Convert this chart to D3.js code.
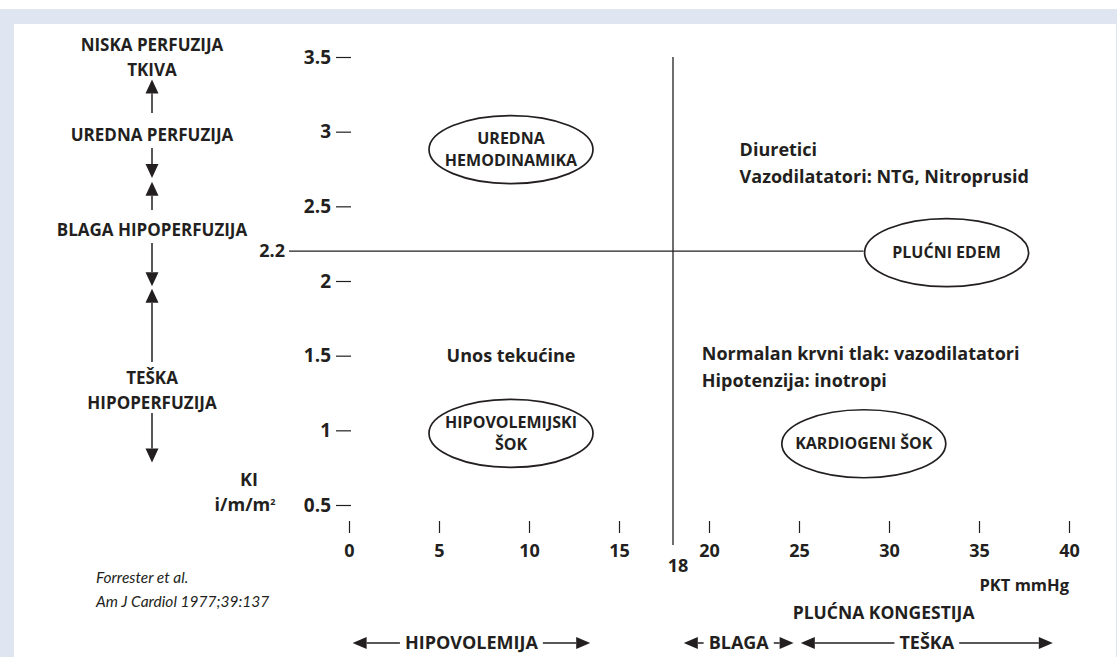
<!DOCTYPE html>
<html>
<head>
<meta charset="utf-8">
<title>Forrester</title>
<script src="https://d3js.org/d3.v7.min.js"></script>
<style>
  body { margin: 0; background: #fff; }
  svg text { font-family: "Open Sans", Lato, sans-serif; font-weight: 700; fill: #231f20; }
</style>
</head>
<body>
<svg id="chart" width="1118" height="657"></svg>
<script>
// axis ticks: KI (cardiac index) and PKT (wedge pressure, mmHg)
var kiTicks = [0.5, 1, 1.5, 2, 2.5, 3, 3.5];
var pktTicks = [0, 5, 10, 15, 20, 25, 30, 35, 40];
var kiCut = 2.2;
var pktCut = 18;

// the four subsets, ellipse centre in (pkt, ki)
var zoneNames = [["UREDNA", "HEMODINAMIKA"], ["PLUĆNI EDEM"], ["HIPOVOLEMIJSKI", "ŠOK"], ["KARDIOGENI ŠOK"]];
var zonePkt = [9, 33.2, 9, 28.6];
var zoneKi = [2.88, 2.19, 0.98, 0.91];

// therapy notes
var notes = [["Diuretici", "Vazodilatatori: NTG, Nitroprusid"], ["Unos tekućine"], ["Normalan krvni tlak: vazodilatatori", "Hipotenzija: inotropi"]];
var notePkt = [21.7, 9, 19.6];
var noteKi = [2.88, 1.5, 1.51];
var noteAnchor = ["start", "middle", "start"];

// perfusion labels on the left + the arrows between them (ki from -> to)
var perfLabels = [["NISKA PERFUZIJA", "TKIVA"], ["UREDNA PERFUZIJA"], ["BLAGA HIPOPERFUZIJA"], ["TEŠKA", "HIPOPERFUZIJA"]];
var perfKi = [3.58, 2.98, 2.34, 1.35];
var perfArrows = [[3.125, 3.35], [2.89, 2.69], [2.475, 2.665], [2.255, 1.965], [1.457, 1.948], [1.116, 0.785]];

// pressure ranges under the x axis
var ranges = ["HIPOVOLEMIJA", "BLAGA", "TEŠKA"];
var rangeFrom = [0.2, 18.6, 25.1];
var rangeTo = [13.4, 24.7, 39.1];

var svg = d3.select("#chart");
var ink = "#231f20";

// frame
svg.append("rect").attr("x", 0).attr("y", 9).attr("width", 1117).attr("height", 648).attr("fill", "#dfe6f2");
svg.append("rect").attr("x", 14).attr("y", 24).attr("width", 1102).attr("height", 633).attr("fill", "#fff");

var x = d3.scaleLinear().domain([0, 40]).range([349, 1069]);
var y = d3.scaleLinear().domain([0.5, 3.5]).range([505, 57]);

// y axis: labels with a dash to the right, no domain line
var yAxis = svg.append("g").attr("transform", "translate(351,0)")
  .call(d3.axisLeft(y).tickValues(kiTicks).tickSize(15).tickPadding(5).tickFormat(String));
yAxis.select(".domain").remove();
yAxis.selectAll("line").attr("stroke", ink).attr("stroke-width", 1.2);
yAxis.selectAll("text").attr("font-size", 19).attr("fill", ink)
  .style("font-family", "'Open Sans', sans-serif").style("font-weight", 700);

// x axis: small bars above the labels
var xAxis = svg.append("g").attr("transform", "translate(0,521)")
  .call(d3.axisBottom(x).tickValues(pktTicks).tickSize(12).tickPadding(11).tickFormat(String));
xAxis.select(".domain").remove();
xAxis.selectAll("line").attr("stroke", ink).attr("stroke-width", 1.2);
xAxis.selectAll("text").attr("font-size", 18).attr("fill", ink)
  .style("font-family", "'Open Sans', sans-serif").style("font-weight", 700);

// threshold lines
svg.append("line")
  .attr("x1", x(pktCut)).attr("x2", x(pktCut))
  .attr("y1", y(3.5)).attr("y2", y(0.5) + 40)
  .attr("stroke", ink).attr("stroke-width", 1.3);
svg.append("text").attr("x", x(pktCut) + 5).attr("y", 566).attr("dy", "0.35em")
  .attr("text-anchor", "middle").attr("font-size", 18)
  .text(pktCut);

var edemLeft = x(zonePkt[1]) - 83;
svg.append("line")
  .attr("x1", 289).attr("x2", edemLeft)
  .attr("y1", y(kiCut)).attr("y2", y(kiCut))
  .attr("stroke", ink).attr("stroke-width", 1.3);
svg.append("text").attr("x", 285).attr("y", y(kiCut)).attr("dy", "0.35em")
  .attr("text-anchor", "end").attr("font-size", 18)
  .text(kiCut);

// ellipses
zoneNames.forEach(function (lines, i) {
  var cx = x(zonePkt[i]), cy = y(zoneKi[i]);
  svg.append("ellipse").attr("cx", cx).attr("cy", cy).attr("rx", 82).attr("ry", 34)
    .attr("fill", "#fff").attr("stroke", ink).attr("stroke-width", 1.7);
  var t = svg.append("text").attr("text-anchor", "middle").attr("font-size", 16);
  lines.forEach(function (s, j) {
    t.append("tspan").attr("x", cx)
      .attr("y", cy + (j - (lines.length - 1) / 2) * 22)
      .attr("dy", "0.35em").text(s);
  });
});

// therapy notes
notes.forEach(function (lines, i) {
  var t = svg.append("text").attr("text-anchor", noteAnchor[i]).attr("font-size", 18);
  lines.forEach(function (s, j) {
    t.append("tspan").attr("x", x(notePkt[i])).attr("y", y(noteKi[i]) + j * 27)
      .attr("dy", "0.35em").text(s);
  });
});

// arrow helper: line from (x1,y1) to tip (x2,y2) with filled head
function arrow(x1, y1, x2, y2, len, half) {
  var dx = x2 - x1, dy = y2 - y1, d = Math.sqrt(dx * dx + dy * dy);
  var ux = dx / d, uy = dy / d;
  var bx = x2 - ux * len, by = y2 - uy * len;
  svg.append("line").attr("x1", x1).attr("y1", y1).attr("x2", bx).attr("y2", by)
    .attr("stroke", ink).attr("stroke-width", 1.5);
  svg.append("path")
    .attr("d", "M" + x2 + "," + y2 + "L" + (bx - uy * half) + "," + (by + ux * half) +
      "L" + (bx + uy * half) + "," + (by - ux * half) + "Z")
    .attr("fill", ink);
}

// perfusion side labels
var perfX = 152;
perfLabels.forEach(function (lines, i) {
  var t = svg.append("text").attr("text-anchor", "middle").attr("font-size", 17);
  lines.forEach(function (s, j) {
    t.append("tspan").attr("x", perfX).attr("y", y(perfKi[i]) + j * 25)
      .attr("dy", "0.35em").text(s);
  });
});
perfArrows.forEach(function (a) {
  arrow(perfX, y(a[0]), perfX, y(a[1]), 14, 6.5);
});

// KI unit label
svg.append("text").attr("x", 249).attr("y", y(0.667)).attr("dy", "0.35em")
  .attr("text-anchor", "middle").attr("font-size", 18).text("KI");
var unit = svg.append("text").attr("x", 245).attr("y", y(0.5)).attr("dy", "0.35em")
  .attr("text-anchor", "middle").attr("font-size", 18);
unit.append("tspan").text("i/m/m");
unit.append("tspan").attr("font-size", 9).attr("dy", "-0.7em").text("2");

// x axis title + congestion caption
svg.append("text").attr("x", x(40)).attr("y", 585).attr("dy", "0.35em")
  .attr("text-anchor", "end").attr("font-size", 16.5).text("PKT mmHg");
svg.append("text").attr("x", x(29.7)).attr("y", 613).attr("dy", "0.35em")
  .attr("text-anchor", "middle").attr("font-size", 17.5).text("PLUĆNA KONGESTIJA");

// range arrows along the bottom
var rowY = 643;
ranges.forEach(function (name, i) {
  var a = x(rangeFrom[i]), b = x(rangeTo[i]), mid = (a + b) / 2;
  var t = svg.append("text").attr("x", mid).attr("y", rowY).attr("dy", "0.35em")
    .attr("text-anchor", "middle").attr("font-size", 18).text(name);
  var w = t.node().getComputedTextLength() / 2 + 5;
  arrow(mid - w, rowY, a, rowY, 14, 6);
  arrow(mid + w, rowY, b, rowY, 14, 6);
});

// citation
var cite = svg.append("text").attr("font-size", 15.5).attr("font-style", "italic")
  .style("font-family", "Lato, sans-serif").style("font-weight", 400);
cite.append("tspan").attr("x", 96).attr("y", 578).attr("dy", "0.35em").text("Forrester et al.");
cite.append("tspan").attr("x", 96).attr("y", 602).attr("dy", "0.35em").text("Am J Cardiol 1977;39:137");
</script>
</body>
</html>
